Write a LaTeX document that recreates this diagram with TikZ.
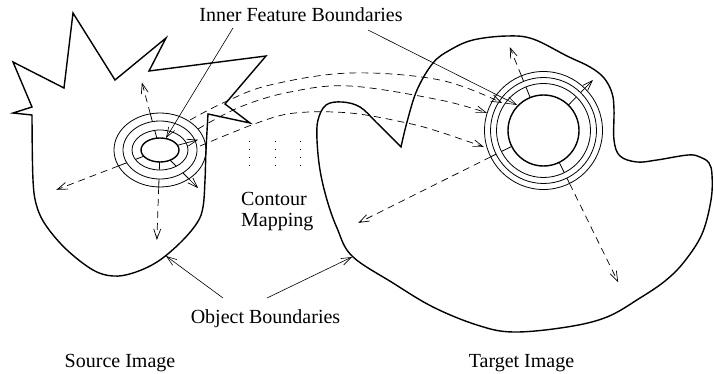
\documentclass[tikz,border=0pt]{standalone}
\usepackage{fontspec}
\setmainfont{Liberation Serif}
\usetikzlibrary{arrows.meta}
\pgfmathdeclarefunction{erad}{3}{\pgfmathparse{(#2)*(#3)/sqrt(((#3)*cos(#1))^2+((#2)*sin(#1))^2)}}
\begin{document}
\begin{tikzpicture}[x=1pt,y=-1pt,
  >={Straight Barb[length=10pt,width=7pt]},
  outline/.style={line width=1.4pt, line join=miter},
  ring/.style={line width=0.8pt},
  dashray/.style={line width=0.7pt, dash pattern=on 7pt off 5pt, ->},
  solidray/.style={line width=0.7pt, ->},
  pointer/.style={line width=0.6pt, ->},
  dots/.style={line width=0.9pt, dash pattern=on 1pt off 7pt},
  lbl/.style={font=\fontsize{20}{24}\selectfont, inner sep=0pt, anchor=base}]
\useasboundingbox (0,0) rectangle (714,374);

% ---------- source object boundary ----------
\draw[outline] (32,115) -- (13,113) -- (32,107) -- (13,62) -- (64,88) -- (73,13)
  -- (115,80) -- (166,38) -- (149,71) -- (266,56) -- (225,104) -- (250,123) -- (208,114)
  -- plot[smooth, tension=0.6] coordinates {(208,114) (206,150) (205,180) (203,207) (197,223)
     (180,243) (157,262) (133,273) (113,276) (93,270) (67,250) (47,227) (37,207) (33,180) (32,115)} -- cycle;

% ---------- target object boundary ----------
\draw[outline] plot[smooth, tension=0.6] coordinates {(401,147) (377,123) (360,107) (342,102)
   (326,105) (318,120) (317,140) (320,170) (327,200) (337,228) (352,256) (393,283) (433,307)
   (477,325) (513,332) (567,327) (607,317) (640,298) (665,281) (684,262) (702,234) (711,200)
   (712,175) (709,163) (700,157) (688,155) (657,160) (637,162) (620,156) (614,140) (614,110)
   (612,93) (604,78) (590,67) (567,56) (533,39) (507,36) (473,40) (450,50) (433,63) (417,90)
   (407,122) (401,147)} -- cycle;

% ---------- source feature rings ----------
\coordinate (sc) at (160,150);
\draw[outline] (sc) ellipse [x radius=19pt, y radius=12pt];
\draw[ring] (sc) ellipse [x radius=28pt, y radius=20pt];
\draw[ring] (sc) ellipse [x radius=37pt, y radius=29pt];
\draw[ring] (sc) ellipse [x radius=46pt, y radius=37pt];
\begin{scope}[shift={(sc)}]
  \foreach \a/\len in {255/70, 92/90, 159/111}{
    \pgfmathsetmacro\ra{erad(\a,19,12)}
    \pgfmathsetmacro\rb{erad(\a,28,20)}
    \pgfmathsetmacro\rc{erad(\a,37,29)}
    \pgfmathsetmacro\rd{erad(\a,46,37)}
    \draw[ring] (\a:\ra) -- (\a:\rb);
    \draw[ring] (\a:\rc) -- (\a:\rd);
    \draw[dashray] (\a:\rd) -- (\a:\len);
  }
  \pgfmathsetmacro\ra{erad(45,19,12)}
  \pgfmathsetmacro\rb{erad(45,28,20)}
  \pgfmathsetmacro\rc{erad(45,37,29)}
  \pgfmathsetmacro\rd{erad(45,46,37)}
  \draw[ring] (45:\ra) -- (45:\rb);
  \draw[ring] (45:\rc) -- (45:\rd);
  \draw[solidray] (45:\rd) -- (45:54);
  \pgfmathsetmacro\ra{erad(-15,19,12)}
  \draw[solidray] (-15:\ra) -- (-15:39.5);
\end{scope}

% ---------- target feature rings ----------
\coordinate (tc) at (543.5,130.5);
\draw[outline] (tc) circle [radius=35.5pt];
\draw[ring] (tc) circle [radius=47pt];
\draw[ring] (tc) circle [radius=53pt];
\draw[ring] (tc) circle [radius=59pt];
\begin{scope}[shift={(tc)}]
  \foreach \a/\len in {-112/90, 63.8/169, 153.5/207}{
    \draw[ring] (\a:35.5) -- (\a:47);
    \draw[ring] (\a:53) -- (\a:59);
    \draw[dashray] (\a:59) -- (\a:\len);
  }
  \draw[ring] (-45.6:35.5) -- (-45.6:47);
  \draw[solidray] (-45.6:53) -- (-45.6:70.7);
\end{scope}

% ---------- contour mapping curves ----------
\coordinate (m1s) at (190,120);
\coordinate (m1e) at (502,103);
\coordinate (m2s) at (198,129);
\coordinate (m2e) at (487,113);
\coordinate (m3s) at (200,146);
\coordinate (m3e) at (484,147);
\draw[dashray] plot[smooth, tension=0.6] coordinates {(m1s) (225,102) (270,85) (350,73) (440,80) (m1e)};
\draw[dashray] plot[smooth, tension=0.6] coordinates {(m2s) (240,107) (290,92) (350,86) (440,100) (m2e)};
\draw[dashray] plot[smooth, tension=0.6] coordinates {(m3s) (257,123) (295,113) (350,113) (407,123) (440,132) (m3e)};

% dotted mapping lines
\draw[dots] (249,141) -- (249,173);
\draw[dots] (275,141) -- (275,173);
\draw[dots] (300,141) -- (300,173);

% ---------- labels ----------
\node[lbl] (ifb) at (301,21.5) {Inner Feature Boundaries};
\node[lbl, anchor=base west] (cm1) at (241,205) {Contour};
\node[lbl, anchor=base west] (cm2) at (241,226.5) {Mapping};
\node[lbl] (obj) at (265.5,323) {Object Boundaries};
\node[lbl] (src) at (120,367) {Source Image};
\node[lbl] (tgt) at (521.5,367) {Target Image};

% ---------- pointers ----------
\coordinate (ifbL) at (233,28);
\coordinate (ifbR) at (368,30);
\coordinate (sInner) at (166,138);
\coordinate (tInner) at (517,105);
\coordinate (objL) at (223,298);
\coordinate (objR) at (267,298);
\coordinate (sOut) at (166,256);
\coordinate (tOut) at (352,257);
\draw[pointer] (ifbL) -- (sInner);
\draw[pointer] (ifbR) -- (tInner);
\draw[pointer] (objL) -- (sOut);
\draw[pointer] (objR) -- (tOut);
\end{tikzpicture}
\end{document}
